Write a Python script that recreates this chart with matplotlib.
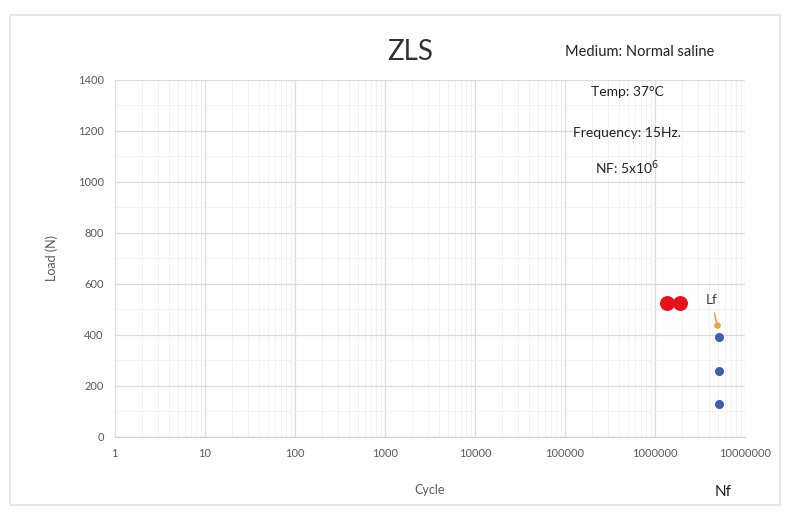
import numpy as np
import matplotlib.pyplot as plt
from matplotlib.ticker import FixedLocator, FuncFormatter, LogLocator, NullFormatter
from matplotlib.patches import Rectangle

plt.rcParams['font.family'] = ['Lato', 'DejaVu Sans']

# Fatigue test data
failure_cycles = [1.37e6, 1.87e6]
failure_loads = [525, 525]
runout_cycles = [5.1e6, 5.1e6, 5.1e6]
runout_loads = [390, 260, 130]
lf_cycles = [4.9e6]
lf_loads = [440]

yticks = [0, 200, 400, 600, 800, 1000, 1200, 1400]
xticks = [1, 10, 100, 1000, 10000, 100000, 1000000, 10000000]

fig = plt.figure(figsize=(7.86, 5.15), dpi=100)
fig.patches.append(Rectangle((10 / 786, 10 / 515), 770 / 786, 490 / 515,
                             transform=fig.transFigure, fill=False,
                             edgecolor='#e4e4e4', linewidth=1.2))

ax = fig.add_axes([0.146, 0.1515, 0.802, 0.6935])
ax.set_xscale('log')
ax.set_xlim(1, 1e7)
ax.set_ylim(0, 1400)

ax.xaxis.set_major_locator(FixedLocator(xticks))
ax.xaxis.set_major_formatter(FuncFormatter(lambda v, p: f'{int(round(v))}'))
ax.xaxis.set_minor_locator(LogLocator(base=10, subs=np.arange(2, 10)))
ax.xaxis.set_minor_formatter(NullFormatter())
ax.yaxis.set_major_locator(FixedLocator(yticks))
ax.yaxis.set_minor_locator(FixedLocator(np.arange(100, 1400, 200)))

ax.grid(which='major', color='#dcdcdc', linewidth=0.9)
ax.grid(which='minor', color='#f2f2f2', linewidth=0.7)
ax.set_axisbelow(True)
for s in ['top', 'right']:
    ax.spines[s].set_visible(False)
ax.spines['left'].set_color('#e0e0e0')
ax.spines['bottom'].set_color('#cfcfcf')
ax.tick_params(which='both', length=0, labelsize=8, labelcolor='#595959', pad=8)

ax.scatter(failure_cycles, failure_loads, s=95, color='#e8121c', zorder=3)
ax.scatter(runout_cycles, runout_loads, s=30, color='#3c5fb0', zorder=3)
ax.scatter(lf_cycles, lf_loads, s=14, color='#f0a050', zorder=3)
ax.annotate('Lf', xy=(lf_cycles[0], lf_loads[0]), xytext=(4.2e6, 535),
            fontsize=10, color='#404040', ha='center', va='center',
            arrowprops=dict(arrowstyle='-', color='#f0a050', lw=1.2,
                            shrinkA=3, shrinkB=2))

ax.set_ylabel('Load (N)', fontsize=9, color='#595959', labelpad=14)
ax.set_xlabel('Cycle', fontsize=9, color='#595959', labelpad=18)

fig.text(410 / 786, 1 - 52 / 515, 'ZLS', fontsize=20, color='#333333',
         ha='center', va='center')
fig.text(640 / 786, 1 - 52 / 515, 'Medium: Normal saline', fontsize=10.5,
         color='#222222', ha='center', va='center')
fig.text(627 / 786, 1 - 92 / 515, 'Temp: 37°C', fontsize=10, color='#222222',
         ha='center', va='center')
fig.text(627 / 786, 1 - 133 / 515, 'Frequency: 15Hz.', fontsize=10,
         color='#222222', ha='center', va='center')
fig.text(627 / 786, 1 - 168 / 515, 'NF: 5x10$^6$', fontsize=10,
         color='#222222', ha='center', va='center')
fig.text(723 / 786, 1 - 492 / 515, 'Nf', fontsize=11, color='#222222',
         ha='center', va='center')

fig.savefig('out.png', dpi=100)
